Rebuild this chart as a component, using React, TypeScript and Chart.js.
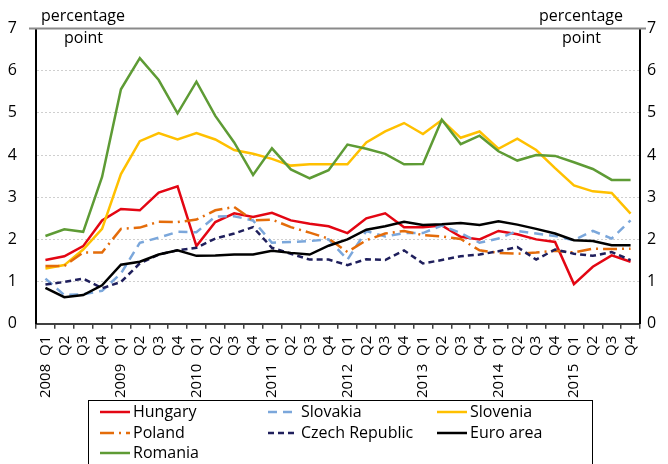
import React, { useEffect, useRef } from "react";
import { Chart, registerables } from "chart.js";

Chart.register(...registerables);

const quarterLabels = [
  "2008  Q1", "Q2", "Q3", "Q4",
  "2009  Q1", "Q2", "Q3", "Q4",
  "2010  Q1", "Q2", "Q3", "Q4",
  "2011  Q1", "Q2", "Q3", "Q4",
  "2012  Q1", "Q2", "Q3", "Q4",
  "2013  Q1", "Q2", "Q3", "Q4",
  "2014  Q1", "Q2", "Q3", "Q4",
  "2015  Q1", "Q2", "Q3", "Q4",
];

const yTicks = [0, 1, 2, 3, 4, 5, 6, 7];

const hungary = [1.51, 1.60, 1.84, 2.45, 2.72, 2.69, 3.11, 3.26, 1.84, 2.41, 2.62, 2.53, 2.63, 2.45, 2.37, 2.31, 2.15, 2.50, 2.62, 2.29, 2.29, 2.33, 2.06, 2.00, 2.20, 2.12, 2.00, 1.94, 0.94, 1.35, 1.62, 1.47];
const slovakia = [1.07, 0.68, 0.70, 0.78, 1.19, 1.92, 2.04, 2.18, 2.17, 2.54, 2.55, 2.45, 1.92, 1.94, 1.96, 2.00, 1.52, 2.20, 2.07, 2.15, 2.15, 2.33, 2.15, 1.92, 2.02, 2.20, 2.14, 2.08, 1.98, 2.20, 2.02, 2.45];
const slovenia = [1.31, 1.39, 1.76, 2.25, 3.55, 4.33, 4.52, 4.37, 4.52, 4.37, 4.12, 4.03, 3.91, 3.75, 3.78, 3.78, 3.78, 4.30, 4.56, 4.76, 4.50, 4.83, 4.41, 4.56, 4.15, 4.39, 4.12, 3.69, 3.28, 3.14, 3.10, 2.61];
const poland = [1.37, 1.37, 1.69, 1.69, 2.25, 2.28, 2.42, 2.41, 2.47, 2.69, 2.77, 2.45, 2.47, 2.29, 2.16, 2.02, 1.70, 1.98, 2.14, 2.20, 2.10, 2.07, 2.01, 1.74, 1.68, 1.66, 1.69, 1.73, 1.69, 1.78, 1.77, 1.78];
const czech = [0.93, 0.99, 1.07, 0.84, 0.99, 1.43, 1.64, 1.74, 1.80, 2.02, 2.14, 2.29, 1.80, 1.66, 1.52, 1.52, 1.39, 1.53, 1.51, 1.74, 1.43, 1.51, 1.60, 1.64, 1.72, 1.82, 1.52, 1.76, 1.66, 1.61, 1.70, 1.51];
const euroArea = [0.85, 0.63, 0.68, 0.91, 1.40, 1.47, 1.64, 1.74, 1.61, 1.62, 1.64, 1.64, 1.73, 1.68, 1.64, 1.85, 2.00, 2.23, 2.31, 2.42, 2.34, 2.36, 2.39, 2.34, 2.43, 2.35, 2.25, 2.14, 1.98, 1.96, 1.86, 1.86];
const romania = [2.08, 2.24, 2.18, 3.48, 5.56, 6.30, 5.78, 4.99, 5.74, 4.93, 4.30, 3.53, 4.16, 3.66, 3.45, 3.64, 4.25, 4.15, 4.03, 3.78, 3.79, 4.84, 4.26, 4.46, 4.09, 3.87, 4.00, 3.98, 3.83, 3.67, 3.41, 3.41];

const seriesNames = ["Hungary", "Slovakia", "Slovenia", "Poland", "Czech Republic", "Euro area", "Romania"];
const seriesValues = [hungary, slovakia, slovenia, poland, czech, euroArea, romania];
const seriesColors = ["#E30613", "#7BA7DB", "#FFC000", "#E46C0A", "#1F1F5C", "#000000", "#5E9B35"];
const seriesDashes: number[][] = [[], [9, 6], [], [14, 5, 2, 5], [6, 4], [], []];

const FONT = "'Open Sans', 'DejaVu Sans', sans-serif";

const overlayPlugin = {
  id: "overlay",
  afterDraw(chart: any) {
    const ctx = chart.ctx;
    const area = chart.chartArea;
    ctx.save();
    ctx.strokeStyle = "#8a8a8a";
    ctx.lineWidth = 2;
    ctx.beginPath();
    ctx.moveTo(29, area.top);
    ctx.lineTo(646, area.top);
    ctx.stroke();

    ctx.fillStyle = "#000";
    ctx.font = `16px ${FONT}`;
    ctx.textBaseline = "alphabetic";
    ctx.textAlign = "left";
    ctx.fillText("percentage", 41, 20.5);
    ctx.fillText("point", 64, 42.5);
    ctx.fillText("percentage", 539, 20.5);
    ctx.fillText("point", 562, 42.5);

    ctx.strokeStyle = "#000";
    ctx.lineWidth = 1;
    ctx.strokeRect(88.5, 400.5, 504, 80);
    const colX = [100, 268, 437];
    const rowY = [412, 433, 453];
    chart.data.datasets.forEach((ds: any, i: number) => {
      const cx = colX[i % 3];
      const cy = rowY[Math.floor(i / 3)];
      ctx.save();
      ctx.strokeStyle = ds.borderColor;
      ctx.lineWidth = 2.5;
      ctx.setLineDash(ds.borderDash || []);
      ctx.beginPath();
      ctx.moveTo(cx, cy);
      ctx.lineTo(cx + 30, cy);
      ctx.stroke();
      ctx.restore();
      ctx.fillStyle = "#000";
      ctx.font = `16px ${FONT}`;
      ctx.textBaseline = "middle";
      ctx.textAlign = "left";
      ctx.fillText(ds.label, cx + 33, cy);
    });
    ctx.restore();
  },
};

export default function App() {
  const canvasRef = useRef<HTMLCanvasElement | null>(null);

  useEffect(() => {
    document.body.style.margin = "0";
    const canvas = canvasRef.current;
    if (!canvas) return;
    const datasets = seriesNames.map((name, i) => ({
      label: name,
      data: seriesValues[i],
      borderColor: seriesColors[i],
      backgroundColor: seriesColors[i],
      borderDash: seriesDashes[i],
      borderWidth: 2.5,
      pointRadius: 0,
      tension: 0,
      fill: false,
      order: seriesNames.length - i,
    }));
    const chart = new Chart(canvas, {
      type: "line",
      data: { labels: quarterLabels, datasets },
      plugins: [overlayPlugin],
      options: {
        responsive: false,
        animation: false,
        devicePixelRatio: 1,
        layout: { padding: { top: 27.5, left: 0, right: 0, bottom: 0 } },
        plugins: { legend: { display: false }, tooltip: { enabled: false } },
        scales: {
          x: {
            type: "category",
            offset: true,
            grid: {
              display: true,
              offset: true,
              drawOnChartArea: false,
              drawTicks: true,
              tickLength: 5,
              color: "#404040",
              lineWidth: 1.5,
            },
            border: { display: true, color: "#404040", width: 2 },
            ticks: {
              autoSkip: false,
              maxRotation: 90,
              minRotation: 90,
              padding: 7,
              color: "#000",
              font: { family: FONT, size: 15 },
            },
            afterFit(scale: any) {
              scale.height = 464 - 323.7;
            },
          },
          y: {
            position: "left",
            min: 0,
            max: 7,
            afterBuildTicks(scale: any) {
              scale.ticks = yTicks.map((v) => ({ value: v }));
            },
            grid: {
              drawTicks: false,
              color: (c: any) => (c.tick && (c.tick.value === 0 || c.tick.value === 7) ? "rgba(0,0,0,0)" : "#cfcfcf"),
              lineWidth: 1,
            },
            border: { display: true, color: "#000", width: 2, dash: [2, 2] },
            ticks: {
              padding: 19,
              color: "#000",
              font: { family: FONT, size: 16 },
            },
            afterFit(scale: any) {
              scale.width = 36;
            },
          },
          y2: {
            position: "right",
            min: 0,
            max: 7,
            afterBuildTicks(scale: any) {
              scale.ticks = yTicks.map((v) => ({ value: v }));
            },
            grid: { drawOnChartArea: false, drawTicks: false },
            border: { display: true, color: "#000", width: 2 },
            ticks: {
              padding: 7,
              color: "#000",
              font: { family: FONT, size: 16 },
            },
            afterFit(scale: any) {
              scale.width = 28;
            },
          },
        },
      },
    } as any);
    return () => chart.destroy();
  }, []);

  return (
    <div style={{ width: 668, height: 464 }}>
      <canvas ref={canvasRef} width={668} height={464} style={{ display: "block" }} />
    </div>
  );
}
